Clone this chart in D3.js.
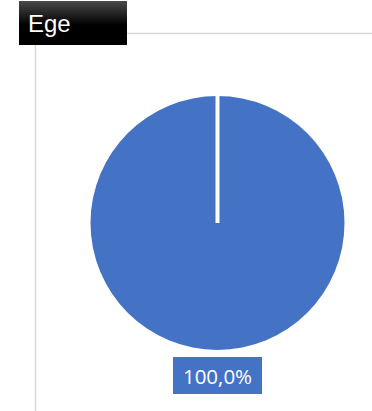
<!DOCTYPE html>
<html><head><meta charset="utf-8">
<script src="https://cdn.jsdelivr.net/npm/d3@7"></script>
<style>html,body{margin:0;padding:0;background:#fff;}svg{display:block;}</style>
</head><body>
<svg id="c" width="372" height="411"></svg>
<script>
const title = "Ege";
const categories = ["Ege"];
const values = [1.0];
const labels = ["100,0%"];

const svg = d3.select("#c");
const W = 372, H = 411;

// frame lines
svg.append("line").attr("x1",127).attr("x2",W).attr("y1",33.5).attr("y2",33.5)
  .attr("stroke","#d9d9d9").attr("stroke-width",1.5);
svg.append("line").attr("x1",35.5).attr("x2",35.5).attr("y1",45).attr("y2",H)
  .attr("stroke","#d9d9d9").attr("stroke-width",1.5);

// title box
const defs = svg.append("defs");
const g = defs.append("linearGradient").attr("id","tg").attr("x1",0).attr("x2",0).attr("y1",0).attr("y2",1);
g.append("stop").attr("offset","0%").attr("stop-color","#4a4a4a");
g.append("stop").attr("offset","55%").attr("stop-color","#000");
g.append("stop").attr("offset","100%").attr("stop-color","#000");
svg.append("rect").attr("x",19).attr("y",1).attr("width",108).attr("height",44).attr("fill","url(#tg)");
svg.append("text").attr("x",28).attr("y",31.5).attr("fill","#fff")
  .attr("font-family","Liberation Sans, Arial, sans-serif").attr("font-size",24).text(title);

// pie
const cx = 217.5, cy = 223, r = 127;
const pie = d3.pie().sort(null).value(d => d)(values);
const arc = d3.arc().innerRadius(0).outerRadius(r);
const pg = svg.append("g").attr("transform",`translate(${cx},${cy})`);
pg.selectAll("path").data(pie).join("path").attr("d",arc).attr("fill","#4472C4");
// slice border from centre to start angle
pg.selectAll("line.b").data(pie).join("line").attr("class","b")
  .attr("x1",0).attr("y1",0)
  .attr("x2",d => r*Math.sin(d.startAngle)).attr("y2",d => -r*Math.cos(d.startAngle))
  .attr("stroke","#fff").attr("stroke-width",4);

// label
const lg = svg.append("g");
lg.append("rect").attr("x",173).attr("y",357).attr("width",89).attr("height",37).attr("fill","#4472C4");
lg.append("text").attr("x",217.5).attr("y",383.5).attr("text-anchor","middle").attr("fill","#fff")
  .attr("font-family","Open Sans, Calibri, sans-serif").attr("font-size",20.5).text(labels[0]);
</script>
</body></html>
